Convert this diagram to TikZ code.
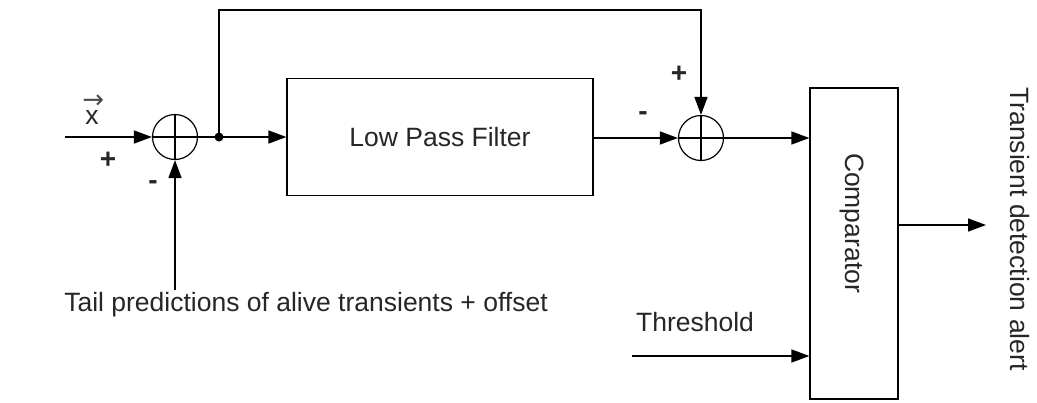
\documentclass[tikz,border=0pt]{standalone}
\usepackage{fontspec}
\setmainfont{Liberation Sans}
\newfontfamily\dvfont{DejaVu Sans}
\usetikzlibrary{arrows.meta}
\begin{document}
\begin{tikzpicture}[x=1pt,y=-1pt,
  line width=1.4pt,
  every node/.style={font=\fontsize{26.5}{30}\selectfont, text=black!85},
  sign/.style={font=\fontsize{28}{30}\selectfont\bfseries},
  arr/.style={-{Triangle[length=18pt,width=13pt]}},
  sumj/.style={circle, draw, minimum size=45pt, inner sep=0pt, line width=1.2pt},
  blk/.style={draw, line width=1.2pt, inner sep=0pt}]
\useasboundingbox (0,0) rectangle (1037,402);
% summing junctions
\node[sumj] (s1) at (175,137) {};
\draw[line width=1.2pt] (s1.north) -- (s1.south) (s1.west) -- (s1.east);
\node[sumj] (s2) at (701,138) {};
\draw[line width=1.2pt] (s2.north) -- (s2.south) (s2.west) -- (s2.east);
% blocks
\node[blk, minimum width=306pt, minimum height=117pt] (lpf) at (440,137) {Low Pass Filter};
\node[blk, minimum width=88pt, minimum height=311pt] (cmp) at (854,243.5) {};
\node[rotate=-90] (cmptxt) at (852,223) {Comparator};
% input
\coordinate (in) at (65,137);
\draw[arr] (in) -- (s1.west);
\node[inner sep=0pt, anchor=base] (xv) at (92,124) {\rlap{\hspace{-3pt}\raisebox{16pt}{\color{black!70}\dvfont\fontsize{26}{26}\selectfont →}}x};
\node[sign] (p1) at (108,160) {+};
\node[sign] (m1) at (153,185) {-};
% tail predictions
\node (tail) at (306,305) {Tail predictions of alive transients + offset};
\coordinate (tl) at (175,290);
\draw[arr] (tl) -- (s1.south);
% junction dot
\coordinate (dot) at (219,137);
\fill (dot) circle (4.5pt);
\draw (s1.east) -- (dot);
\draw[arr] (dot) -- (lpf.west);
\draw[arr] (dot) -- (219,10) -- (701,10) -- (s2.north);
\node[sign] (p2) at (679,74) {+};
\node[sign] (m2) at (643,116) {-};
\draw[arr] (lpf.east |- s2) -- (s2.west);
\draw[arr] (s2.east) -- (cmp.west |- s2);
% threshold
\node (thr) at (695,322) {Threshold};
\coordinate (th) at (632,356);
\draw[arr] (th) -- (cmp.west |- th);
% output
\coordinate (out) at (986,225);
\draw[arr] (cmp.east |- out) -- (out);
\node[rotate=-90] (alert) at (1020,229) {Transient detection alert};
\end{tikzpicture}
\end{document}
